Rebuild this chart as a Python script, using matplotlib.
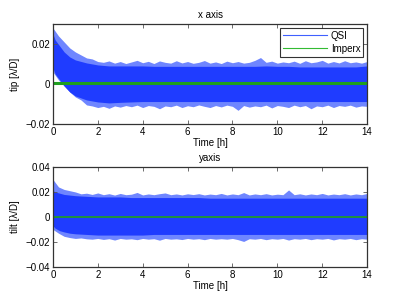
import matplotlib.pyplot as plt
import numpy as np

plt.rcParams['font.family'] = ['Liberation Sans', 'DejaVu Sans']

# time grid of the dense band [h]
t_env = [0, 0.1, 0.3, 0.5, 0.75, 1.0, 1.5, 2.0, 2.5, 3, 3.5, 4, 4.5, 5, 5.5, 6, 6.5, 7,
         7.5, 8, 8.5, 9, 9.5, 10, 10.5, 11, 11.5, 12, 12.5, 13, 13.5, 14]

# x axis (tip) QSI: dense band
tip_hi = [0.025, 0.022, 0.019, 0.016, 0.0135, 0.012, 0.0105, 0.0095, 0.009, 0.009, 0.009,
          0.009, 0.0088, 0.0088, 0.0088, 0.0088, 0.0088, 0.0088, 0.0088, 0.0088, 0.0088,
          0.0088, 0.009, 0.0088, 0.0088, 0.0085, 0.0085, 0.0085, 0.0085, 0.0085, 0.0085, 0.009]
tip_lo = [0.008, 0.005, 0.002, -0.001, -0.004, -0.006, -0.008, -0.009, -0.0095, -0.0092,
          -0.009, -0.0088, -0.0088, -0.0088, -0.0088, -0.0088, -0.0088, -0.0088, -0.0088,
          -0.0088, -0.0088, -0.0088, -0.0088, -0.0088, -0.0088, -0.0088, -0.0088, -0.0088,
          -0.0088, -0.0088, -0.0088, -0.0088]

# y axis (tilt) QSI: dense band
tilt_hi = [0.021, 0.02, 0.019, 0.018, 0.0175, 0.017, 0.0165, 0.016, 0.016, 0.016, 0.0155,
           0.0155, 0.0155, 0.0155, 0.0155, 0.0155, 0.0155, 0.015, 0.015, 0.015, 0.015,
           0.015, 0.015, 0.015, 0.015, 0.015, 0.015, 0.015, 0.015, 0.015, 0.015, 0.015]
tilt_lo = [-0.007, -0.009, -0.011, -0.012, -0.013, -0.0135, -0.014, -0.0145, -0.0145,
           -0.0145, -0.0145, -0.0145, -0.014, -0.014, -0.014, -0.014, -0.014, -0.014,
           -0.014, -0.014, -0.014, -0.014, -0.014, -0.014, -0.014, -0.014, -0.014, -0.014,
           -0.014, -0.014, -0.014, -0.014]

# outer spikes, read every 0.25 h
t_pk = list(np.arange(0, 14.01, 0.25))
tip_hi_pk = [0.028, 0.024, 0.021, 0.018, 0.016, 0.0145, 0.013, 0.0125, 0.0112, 0.0108,
             0.0115, 0.0104, 0.0112, 0.0102, 0.011, 0.0118, 0.0106, 0.0113, 0.0102, 0.0115,
             0.0108, 0.0104, 0.0116, 0.0105, 0.0112, 0.0103, 0.0108, 0.0117, 0.0104, 0.011,
             0.0102, 0.0114, 0.0106, 0.0112, 0.0104, 0.0108, 0.0118, 0.0132, 0.0108, 0.0114,
             0.0104, 0.011, 0.0106, 0.0114, 0.0103, 0.0116, 0.0106, 0.011, 0.0118, 0.0104,
             0.0112, 0.0105, 0.0116, 0.0106, 0.011, 0.0104, 0.0112]
tip_lo_pk = [0.006, 0.002, -0.001, -0.004, -0.0065, -0.008, -0.0105, -0.011, -0.0118,
             -0.0112, -0.0122, -0.011, -0.0116, -0.0108, -0.0114, -0.0106, -0.0118, -0.0108,
             -0.0112, -0.0124, -0.011, -0.0114, -0.0106, -0.0118, -0.0109, -0.0114, -0.0105,
             -0.0112, -0.0118, -0.0108, -0.0115, -0.0106, -0.0112, -0.0132, -0.0108, -0.0116,
             -0.011, -0.0114, -0.0106, -0.012, -0.0108, -0.0112, -0.0118, -0.0106, -0.0114,
             -0.0108, -0.0124, -0.011, -0.0114, -0.0106, -0.0118, -0.0108, -0.0112, -0.0106,
             -0.0116, -0.011, -0.0112]
tilt_hi_pk = [0.03, 0.024, 0.022, 0.021, 0.02, 0.0185, 0.019, 0.018, 0.0192, 0.0178,
              0.0186, 0.0175, 0.0188, 0.0178, 0.0182, 0.0196, 0.0176, 0.0184, 0.0178,
              0.0186, 0.0192, 0.0178, 0.0184, 0.0176, 0.0185, 0.0179, 0.0186, 0.0176,
              0.0183, 0.0178, 0.0188, 0.0176, 0.0184, 0.0178, 0.0195, 0.0176, 0.0184,
              0.0178, 0.0186, 0.0176, 0.0182, 0.0178, 0.0216, 0.0178, 0.0185, 0.0176,
              0.0184, 0.0178, 0.0188, 0.0176, 0.0183, 0.0178, 0.0186, 0.0176, 0.0184,
              0.0178, 0.0188]
tilt_lo_pk = [-0.01, -0.013, -0.0155, -0.0165, -0.0172, -0.0168, -0.0175, -0.0178, -0.0172,
              -0.018, -0.0174, -0.0185, -0.0172, -0.0178, -0.0175, -0.0182, -0.0172, -0.0178,
              -0.0174, -0.0186, -0.0172, -0.0178, -0.0175, -0.0181, -0.0172, -0.0178,
              -0.0174, -0.0182, -0.0172, -0.0178, -0.0174, -0.0178, -0.0172, -0.0182,
              -0.0196, -0.0174, -0.0178, -0.0172, -0.0182, -0.0174, -0.0178, -0.0172,
              -0.0185, -0.0174, -0.0178, -0.0172, -0.0182, -0.0174, -0.0178, -0.0172,
              -0.0184, -0.0174, -0.0178, -0.0172, -0.0182, -0.0174, -0.0178]

# Imperx, flat near zero
imperx_tip = 0.0003
imperx_tilt = 0.0

blue = '#1f3cff'
light = '#6f86ff'
green = '#1f9f1f'

fig, (ax1, ax2) = plt.subplots(2, 1, figsize=(4.07, 3.03), dpi=100)
fig.subplots_adjust(left=0.13, right=0.902, top=0.921, bottom=0.119, hspace=0.43)

ax1.fill_between(t_pk, tip_lo_pk, tip_hi_pk, color=light, lw=0)
ax1.fill_between(t_env, tip_lo, tip_hi, color=blue, lw=0)
ax1.plot(t_env, [imperx_tip] * len(t_env), color=green, lw=2.2)
ax1.plot([], [], color='#4060ff', lw=0.8, label='QSI')
ax1.plot([], [], color='#33bb33', lw=0.8, label='Imperx')
ax1.set_ylim(-0.02, 0.03)
ax1.set_yticks([-0.02, 0, 0.02])
ax1.set_yticklabels(['\u22120.02', '0', '0.02'])
ax1.set_ylabel('tip [\u03bb/D]', fontsize=7)
ax1.set_title('x axis', fontsize=7, pad=4)
leg = ax1.legend(loc='upper right', fontsize=7, frameon=True, fancybox=False,
                 handlelength=4.5, borderpad=0.3, labelspacing=0.3, handletextpad=0.4,
                 borderaxespad=0.4)
leg.get_frame().set_edgecolor('black')
leg.get_frame().set_linewidth(0.8)

ax2.fill_between(t_pk, tilt_lo_pk, tilt_hi_pk, color=light, lw=0)
ax2.fill_between(t_env, tilt_lo, tilt_hi, color=blue, lw=0)
ax2.plot(t_env, [imperx_tilt] * len(t_env), color=green, lw=1.2)
ax2.set_ylim(-0.04, 0.04)
ax2.set_yticks([-0.04, -0.02, 0, 0.02, 0.04])
ax2.set_yticklabels(['\u22120.04', '\u22120.02', '0', '0.02', '0.04'])
ax2.set_ylabel('tilt [\u03bb/D]', fontsize=7)
ax2.set_title('yaxis', fontsize=7, pad=4)

for ax in (ax1, ax2):
    ax.set_xlim(0, 14)
    ax.set_xticks(np.arange(0, 15, 2))
    ax.set_xlabel('Time [h]', fontsize=7, labelpad=1)
    ax.tick_params(direction='in', top=True, right=True, labelsize=7, length=3,
                   width=0.6, color='#555555', pad=2)
    for s in ax.spines.values():
        s.set_color('#333333')
        s.set_linewidth(0.9)

plt.savefig('out.png', dpi=100)
